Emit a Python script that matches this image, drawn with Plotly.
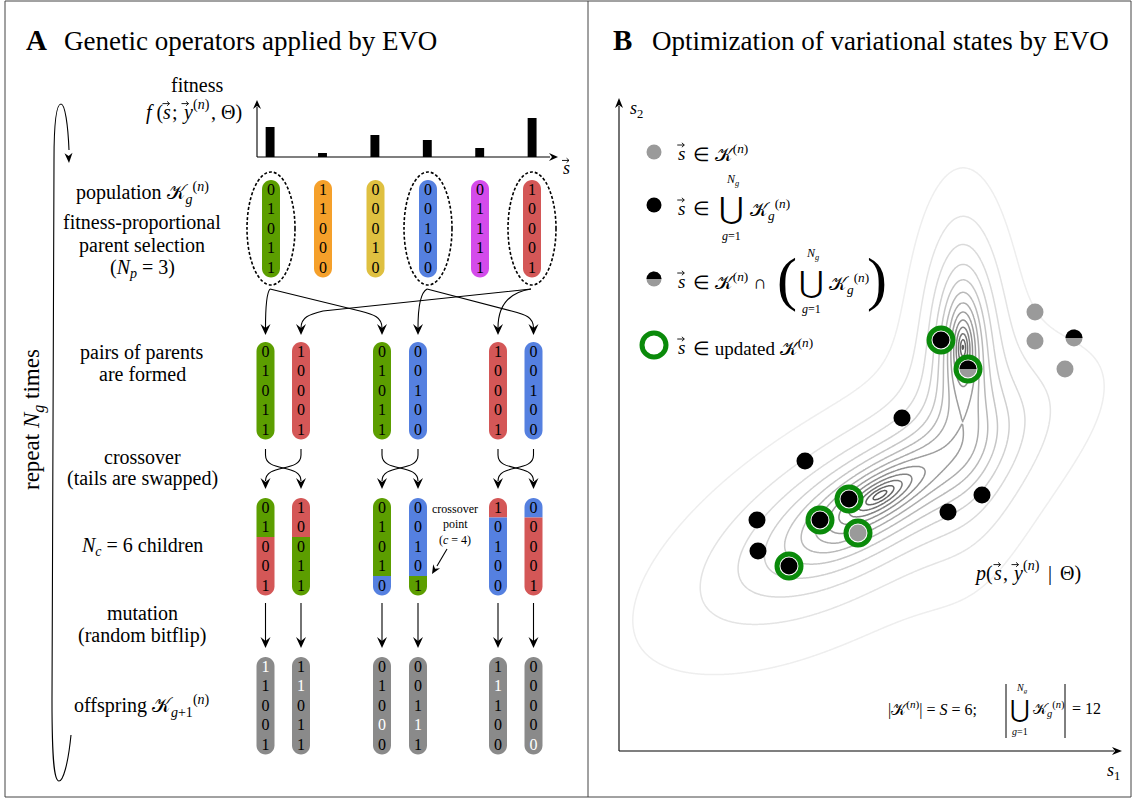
import numpy as np
import plotly.graph_objects as go

W, H = 1132, 798
FONT = "Liberation Serif"

# ---------------- data: panel A ----------------
fitness = [30, 4, 22, 17, 9, 39]
population = ["01011", "11000", "00010", "00100", "01111", "10001"]
pop_colors = ["#5c9e00", "#f5a02a", "#dfc040", "#5580e0", "#d44beb", "#d45757"]
selected = [0, 3, 5]
parent_pairs = [(0, 5), (0, 3), (5, 3)]
crossover_points = [2, 4, 1]
mutated_bits = [0, 1, 3, 3, 1, 4]

# ---------------- data: panel B ----------------
k_only_s1 = [8.32, 8.32, 8.92, 4.78]
k_only_s2 = [8.76, 8.18, 7.62, 4.34]
union_only_s1 = [5.66, 3.72, 2.76, 2.78, 6.58, 7.26, 6.44, 4.60, 4.02, 3.40]
union_only_s2 = [6.64, 5.78, 4.60, 3.98, 4.76, 5.10, 8.20, 5.02, 4.60, 3.68]
both_s1 = [6.98, 9.10]
both_s2 = [7.62, 8.24]
updated_s1 = [6.44, 6.98, 4.60, 4.02, 4.78, 3.40]
updated_s2 = [8.20, 7.62, 5.02, 4.60, 4.34, 3.68]

# parameters of the drawn density p(s, y | Theta): peaked components
mix_mu1 = [5.22, 6.88, 4.40]
mix_mu2 = [5.10, 8.06, 4.20]
mix_scale_a = [1.75, 1.38, 3.20]
mix_scale_b = [0.62, 0.43, 1.70]
mix_angle = [31, 90, 32]
mix_weight = [1.0, 1.0, 0.17]
n_levels = 14

# ---------------- layout constants (pixels) ----------------
pop_x = [271, 323, 375.5, 428, 480, 532]
pair_x = [265.5, 301, 382, 418, 498, 533.5]
TOP_POP, TOP_PAR, TOP_CHI, TOP_OFF = 180, 342, 498, 657
CELL = 19.5
PR = 9
GRAY = "#8a8a8a"
LS = 20  # label font size

shapes = []
annotations = []


def ann(x, y, text, size=LS, xanchor="center", color="black", angle=0, family=FONT):
    annotations.append(dict(x=x, y=y, xref="x", yref="y", text=text, showarrow=False,
                            xanchor=xanchor, yanchor="middle", textangle=angle,
                            font=dict(family=family, size=size, color=color)))


def path(d, fill=None, color="black", width=1.2, layer="above", dash=None):
    s = dict(type="path", path=d, xref="x", yref="y", layer=layer,
             line=dict(color=color, width=width))
    if dash:
        s["line"]["dash"] = dash
    if fill:
        s["fillcolor"] = fill
        s["line"]["width"] = 0
    shapes.append(s)


def head(tx, ty, ux, uy, L=11, Wd=5, notch=4):
    n = (ux ** 2 + uy ** 2) ** 0.5
    ux, uy = ux / n, uy / n
    bx, by = tx - L * ux, ty - L * uy
    px, py = -uy, ux
    nx, ny = tx - (L - notch) * ux, ty - (L - notch) * uy
    d = (f"M {tx},{ty} L {bx + Wd * px},{by + Wd * py} L {nx},{ny} "
         f"L {bx - Wd * px},{by - Wd * py} Z")
    path(d, fill="black")


def vec(cx, y, w=7):
    """small vector arrow drawn above a letter centred at cx"""
    x0, x1 = cx - w / 2, cx + w / 2
    path(f"M {x0},{y} L {x1},{y}", width=0.9)
    path(f"M {x1 - 2.4},{y - 2.2} L {x1},{y} L {x1 - 2.4},{y + 2.2}", width=0.9)


def vletter(x, y, letter, size=LS):
    """italic letter with vector arrow, left edge at x"""
    ann(x, y, f"<i>{letter}</i>", size=size, xanchor="left")
    vec(x + 0.25 * size, y - 0.42 * size)


K = 0.5523


def pill_path(cx, top, bot, r=PR, round_top=True, round_bot=True):
    d = ""
    if round_top:
        d += (f"M {cx - r},{top + r} C {cx - r},{top + r - K * r} {cx - K * r},{top} {cx},{top} "
              f"C {cx + K * r},{top} {cx + r},{top + r - K * r} {cx + r},{top + r} ")
    else:
        d += f"M {cx - r},{top} L {cx + r},{top} "
    if round_bot:
        d += (f"L {cx + r},{bot - r} C {cx + r},{bot - r + K * r} {cx + K * r},{bot} {cx},{bot} "
              f"C {cx - K * r},{bot} {cx - r},{bot - r + K * r} {cx - r},{bot - r} Z")
    else:
        d += f"L {cx + r},{bot} L {cx - r},{bot} Z"
    return d


def pill(cx, top, color, split=None, color2=None):
    bot = top + 5 * CELL
    if split is None:
        path(pill_path(cx, top, bot), fill=color, layer="below")
    else:
        cut = top + split * CELL
        path(pill_path(cx, top, cut, round_bot=False), fill=color, layer="below")
        path(pill_path(cx, cut, bot, round_top=False), fill=color2, layer="below")


digit_x, digit_y, digit_t, digit_c = [], [], [], []


def digits(cx, top, bits, white_idx=None):
    for i, b in enumerate(bits):
        digit_x.append(cx)
        digit_y.append(top + (i + 0.5) * CELL + 1)
        digit_t.append(b)
        digit_c.append("white" if white_idx == i else "black")


# ---- population row
for i, bits in enumerate(population):
    pill(pop_x[i], TOP_POP, pop_colors[i])
    digits(pop_x[i], TOP_POP, bits)
for i in selected:
    shapes.append(dict(type="circle", xref="x", yref="y", x0=pop_x[i] - 24, x1=pop_x[i] + 24,
                       y0=172, y1=285, line=dict(color="black", width=1.6, dash="3px,2px")))

# ---- parents row + selection arrows
parents = []
for p, (a, b) in enumerate(parent_pairs):
    parents += [a, b]
for j, src in enumerate(parents):
    cx = pair_x[j]
    pill(cx, TOP_PAR, pop_colors[src])
    digits(cx, TOP_PAR, population[src])
    sx, sy = pop_x[src] - 1, 289
    tip = 335
    dx = cx - sx
    if abs(dx) < 40:
        d = f"M {sx},{sy} C {sx + 0.6 * dx},{sy + 3} {cx},{sy + 15} {cx},{tip - 7}"
    else:
        sg = 1 if dx > 0 else -1
        kx, ky = cx - 22 * sg, 311
        d = (f"M {sx},{sy} L {kx},{ky} C {kx + 14 * sg},{ky + 3.5} {cx},{ky + 6} {cx},{tip - 7}")
    path(d, width=1.1)
    head(cx, tip, 0, 1)

# ---- crossover arrows + children
children = []
for p, (a, b) in enumerate(parent_pairs):
    c = crossover_points[p]
    pa, pb = population[a], population[b]
    children.append((pa[:c] + pb[c:], a, b, c))
    children.append((pb[:c] + pa[c:], b, a, c))
    xl, xr = pair_x[2 * p], pair_x[2 * p + 1]
    for x0, x1 in ((xl, xr), (xr, xl)):
        path(f"M {x0},449 L {x0},455 C {x0},473 {x1},463 {x1},481", width=1.1)
    head(xl, 489, 0, 1)
    head(xr, 489, 0, 1)

for j, (bits, a, b, c) in enumerate(children):
    cx = pair_x[j]
    pill(cx, TOP_CHI, pop_colors[a], split=c, color2=pop_colors[b])
    digits(cx, TOP_CHI, bits)

ann(455, 509, "crossover", size=12)
ann(455, 524, "point", size=12)
ann(455, 540, "(<i>c</i> = 4)", size=12)
path("M 447,549 L 437,566", width=1.1)
head(432, 574, -15, 25, L=9, Wd=4, notch=3)

# ---- mutation + offspring
for j, (bits, a, b, c) in enumerate(children):
    cx = pair_x[j]
    path(f"M {cx},603 L {cx},641", width=1.1)
    head(cx, 648, 0, 1)
    m = mutated_bits[j]
    off = bits[:m] + ("1" if bits[m] == "0" else "0") + bits[m + 1:]
    pill(cx, TOP_OFF, GRAY)
    digits(cx, TOP_OFF, off, white_idx=m)

# ---- fitness axes
path("M 257,157 L 257,107", width=1.1)
head(257, 100, 0, -1, L=9, Wd=4, notch=3)
path("M 257,157 L 550,157", width=1.1)
head(558, 157, 1, 0, L=9, Wd=4, notch=3)
vletter(561, 168, "s", size=18)
ann(197, 85, "fitness")
FY = 112
ann(144, FY, "<i>f</i> (", xanchor="left")
vletter(161, FY, "s")
ann(170, FY, ";", xanchor="left")
vletter(180, FY, "y")
ann(191, FY - 7, "(<i>n</i>)", size=14, xanchor="left")
ann(209, FY, ",", xanchor="left")
ann(219, FY, "Θ)", xanchor="left")

# ---- left labels
LX = 142
ann(LX, 193, "population 𝒦<sub><i>g</i></sub><sup>(<i>n</i>)</sup>")
ann(LX, 222, "fitness-proportional")
ann(LX, 245, "parent selection")
ann(LX, 268, "(<i>N<sub>p</sub></i> = 3)")
ann(LX, 352, "pairs of parents")
ann(LX, 374, "are formed")
ann(LX, 457, "crossover")
ann(LX, 478, "(tails are swapped)")
ann(LX, 546, "<i>N<sub>c</sub></i> = 6 children")
ann(LX, 613, "mutation")
ann(LX, 635, "(random bitflip)")
ann(LX, 706, "offspring 𝒦<sub><i>g</i>+1</sub><sup>(<i>n</i>)</sup>")
ann(33, 420, "repeat <i>N<sub>g</sub></i> times", size=23, angle=-90)

# loop arrow
path("M 71,735 C 68,765 63,781 59,781 C 54,781 52,760 52,700 L 54,160 "
     "C 54,120 57,104 61,104 C 65,104 68,125 69,150", width=1.1)
head(69, 163, 0.05, 1, L=10, Wd=4, notch=3)

# ---- titles
ann(24, 40, "<b>A</b>", size=29, xanchor="left")
ann(62, 41, "Genetic operators applied by EVO", size=27, xanchor="left")
ann(611, 40, "<b>B</b>", size=29, xanchor="left")
ann(650, 41, "Optimization of variational states by EVO", size=27, xanchor="left")

# ---- borders
shapes.append(dict(type="rect", xref="x", yref="y", x0=5, x1=1131, y0=1, y1=797,
                   line=dict(color="#444", width=1)))
shapes.append(dict(type="line", xref="x", yref="y", x0=588, x1=588, y0=1, y1=797,
                   line=dict(color="#444", width=1)))

# ---- panel B axes
path("M 619,751 L 619,106", width=1.1)
head(619, 98, 0, -1, L=10, Wd=4, notch=3)
path("M 619,751 L 1114,751", width=1.1)
head(1122, 751, 1, 0, L=10, Wd=4, notch=3)
ann(636, 109, "<i>s</i><sub>2</sub>", size=18)
ann(1113, 771, "<i>s</i><sub>1</sub>", size=18)

# ---- panel B legend text
UNION = "⋃"
BS = 19
vletter(676, 153, "s", size=BS)
ann(691, 153, "∈ 𝒦<sup>(<i>n</i>)</sup>", size=BS, xanchor="left")

vletter(676, 208, "s", size=BS)
ann(691, 208, "∈", size=BS, xanchor="left")
ann(731, 208, UNION, size=30, family="DejaVu Serif")
ann(732, 180, "<i>N<sub>g</sub></i>", size=12)
ann(731, 236, "<i>g</i>=1", size=12)
ann(748, 209, "𝒦<sub><i>g</i></sub><sup>(<i>n</i>)</sup>", size=BS, xanchor="left")

vletter(676, 281, "s", size=BS)
ann(691, 281, "∈ 𝒦<sup>(<i>n</i>)</sup> ∩", size=BS, xanchor="left")
ann(787, 279, "(", size=60)
ann(811, 282, UNION, size=30, family="DejaVu Serif")
ann(812, 254, "<i>N<sub>g</sub></i>", size=12)
ann(811, 309, "<i>g</i>=1", size=12)
ann(827, 283, "𝒦<sub><i>g</i></sub><sup>(<i>n</i>)</sup>", size=BS, xanchor="left")
ann(877, 279, ")", size=60)

vletter(676, 347, "s", size=BS)
ann(691, 347, "∈ updated 𝒦<sup>(<i>n</i>)</sup>", size=BS, xanchor="left")

PY = 573
ann(972, PY, "<i>p</i>(", xanchor="left")
vletter(992, PY, "s")
ann(1001, PY, ",", xanchor="left")
vletter(1010, PY, "y")
ann(1021, PY - 7, "(<i>n</i>)", size=14, xanchor="left")
ann(1046, PY, "|", xanchor="left")
ann(1058, PY, "Θ)", xanchor="left")

ann(886, 708, "|𝒦<sup>(<i>n</i>)</sup>| = <i>S</i> = 6;", size=16, xanchor="left")
shapes.append(dict(type="line", xref="x", yref="y", x0=1006, x1=1006, y0=684, y1=738,
                   line=dict(color="black", width=1)))
shapes.append(dict(type="line", xref="x", yref="y", x0=1065, x1=1065, y0=684, y1=738,
                   line=dict(color="black", width=1)))
ann(1020, 709, UNION, size=24, family="DejaVu Serif")
ann(1022, 688, "<i>N<sub>g</sub></i>", size=10)
ann(1020, 731, "<i>g</i>=1", size=10)
ann(1031, 709, "𝒦<sub><i>g</i></sub><sup>(<i>n</i>)</sup>", size=15, xanchor="left")
ann(1070, 708, "= 12", size=16, xanchor="left")

# ---------------- figure ----------------
fig = go.Figure()

fig.add_trace(go.Scatter(x=digit_x, y=digit_y, text=digit_t, mode="text",
                         textfont=dict(family=FONT, size=16, color=digit_c),
                         hoverinfo="skip", showlegend=False, xaxis="x", yaxis="y"))

# legend markers (canvas)
LMX = 654
th = np.linspace(0, np.pi, 40)
fig.add_trace(go.Scatter(x=[LMX, LMX, LMX], y=[152, 205, 279], mode="markers",
                         marker=dict(size=15, color=["#9a9a9a", "black", "#9a9a9a"]),
                         hoverinfo="skip", showlegend=False))
fig.add_trace(go.Scatter(x=LMX + 7.5 * np.cos(th), y=279 - 7.5 * np.sin(th), mode="lines",
                         fill="toself", fillcolor="black", line=dict(width=0),
                         hoverinfo="skip", showlegend=False))
fig.add_trace(go.Scatter(x=[LMX], y=[345], mode="markers",
                         marker=dict(size=24, color="white", line=dict(color="#0a8a0a", width=5)),
                         hoverinfo="skip", showlegend=False))

# fitness bars
fig.add_trace(go.Bar(x=list(range(len(fitness))), y=fitness, width=0.17,
                     marker=dict(color="black", line=dict(width=0)),
                     hoverinfo="skip", showlegend=False, xaxis="x3", yaxis="y3"))

# density contours
g1 = np.linspace(0, 10, 401)
g2 = np.linspace(0, 13, 521)
S1, S2 = np.meshgrid(g1, g2)
Z = np.zeros_like(S1)
for m1, m2, sa, sb, ang, w in zip(mix_mu1, mix_mu2, mix_scale_a, mix_scale_b, mix_angle, mix_weight):
    t = np.deg2rad(ang)
    u = (S1 - m1) * np.cos(t) + (S2 - m2) * np.sin(t)
    v = -(S1 - m1) * np.sin(t) + (S2 - m2) * np.cos(t)
    Z += w * np.exp(-np.sqrt((u / sa) ** 2 + (v / sb) ** 2))
Z = Z / Z.max()
fig.add_trace(go.Contour(x=g1, y=g2, z=Z, xaxis="x2", yaxis="y2", showscale=False,
                         autocontour=False,
                         contours=dict(start=1 / n_levels, end=(n_levels - 0.5) / n_levels,
                                       size=1 / n_levels, coloring="lines"),
                         colorscale=[[0, "#eeeeee"], [0.35, "#c4c4c4"], [1, "#5a5a5a"]],
                         zmin=0, zmax=1, line=dict(width=1.5, smoothing=1.0),
                         hoverinfo="skip"))

R_DOT = 0.17
fig.add_trace(go.Scatter(x=updated_s1, y=updated_s2, mode="markers", xaxis="x2", yaxis="y2",
                         marker=dict(size=24, color="white", line=dict(color="#0a8a0a", width=5)),
                         hoverinfo="skip", showlegend=False))
fig.add_trace(go.Scatter(x=k_only_s1 + both_s1, y=k_only_s2 + both_s2, mode="markers",
                         xaxis="x2", yaxis="y2", marker=dict(size=17, color="#9a9a9a"),
                         hoverinfo="skip", showlegend=False))
fig.add_trace(go.Scatter(x=union_only_s1, y=union_only_s2, mode="markers",
                         xaxis="x2", yaxis="y2", marker=dict(size=17, color="black"),
                         hoverinfo="skip", showlegend=False))
for a, b in zip(both_s1, both_s2):
    fig.add_trace(go.Scatter(x=a + R_DOT * np.cos(th), y=b + R_DOT * np.sin(th), mode="lines",
                             fill="toself", fillcolor="black", line=dict(width=0),
                             xaxis="x2", yaxis="y2", hoverinfo="skip", showlegend=False))

ax_off = dict(visible=False, showgrid=False, zeroline=False, fixedrange=True)
fig.update_layout(
    width=W, height=H, margin=dict(l=0, r=0, t=0, b=0),
    paper_bgcolor="white", plot_bgcolor="rgba(0,0,0,0)",
    showlegend=False,
    xaxis=dict(range=[0, W], domain=[0, 1], **ax_off),
    yaxis=dict(range=[H, 0], domain=[0, 1], **ax_off),
    xaxis2=dict(range=[0, 10], domain=[619 / W, 1119 / W], anchor="y2", **ax_off),
    yaxis2=dict(range=[0, 13], domain=[(H - 750) / H, (H - 100) / H], anchor="x2", **ax_off),
    xaxis3=dict(range=[-0.25, 5.437], domain=[257 / W, 555 / W], anchor="y3", **ax_off),
    yaxis3=dict(range=[0, 54], domain=[(H - 157) / H, (H - 103) / H], anchor="x3", **ax_off),
    shapes=shapes, annotations=annotations,
)

fig.write_html("out.html", config={"displayModeBar": False},
               post_script="document.body.style.margin='0px';document.body.style.overflow='hidden';")
